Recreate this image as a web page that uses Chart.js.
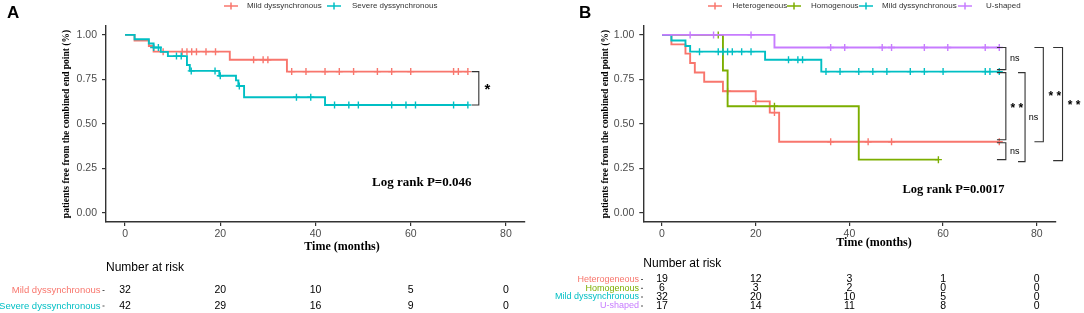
<!DOCTYPE html>
<html>
<head>
<meta charset="utf-8">
<script src="https://cdn.jsdelivr.net/npm/chart.js@4.4.1/dist/chart.umd.min.js"></script>
<style>
  html, body { margin: 0; padding: 0; background: #fff; width: 1084px; height: 313px; overflow: hidden; }
  #wrap { position: relative; width: 1084px; height: 313px; }
  canvas { position: absolute; top: 0; }
  #chartA { left: 0; width: 540px; height: 313px; }
  #chartB { left: 540px; width: 544px; height: 313px; }
</style>
</head>
<body>
<div id="wrap">
  <canvas id="chartA" width="540" height="313"></canvas>
  <canvas id="chartB" width="544" height="313"></canvas>
</div>
<script>
// ---- data ----
const timeTicks = [0, 20, 40, 60, 80];
const survTicks = [0, 0.25, 0.5, 0.75, 1];

// mild dyssynchronous (same group in both panels)
const mildEventT = [2, 5, 6, 22, 34];
const mildSurv = [0.969, 0.938, 0.906, 0.861, 0.794];
const mildCensorT = [8, 12, 13, 14, 15, 17, 19, 27, 29, 30, 35, 38, 42, 45, 48, 53, 56, 60, 69, 70, 72];

// severe dyssynchronous (panel A)
const severeEventT = [2, 5, 6, 7.5, 9, 13, 13.6, 19.8, 23.3, 23.8, 25, 42];
const severeSurv = [0.976, 0.952, 0.929, 0.905, 0.881, 0.831, 0.798, 0.771, 0.745, 0.713, 0.65, 0.607];
const severeCensorT = [6, 7, 10.8, 11.8, 13.9, 18.9, 20, 24, 36, 39, 44, 47, 49, 56, 59, 61, 69, 72];

// panel B
const hetEventT = [2, 5, 6, 7, 9, 13, 20, 23, 25];
const hetSurv = [0.947, 0.895, 0.842, 0.789, 0.737, 0.684, 0.627, 0.564, 0.40];
const hetCensorT = [14, 20, 24, 36, 44, 49, 72];

const homEventT = [13, 14, 42];
const homSurv = [0.8, 0.6, 0.3];
const homCensorT = [12, 24, 59];

const uEventT = [24];
const uSurv = [0.929];
const uCensorT = [6, 11, 19, 36, 39, 47, 49, 56, 61, 69, 72];

// number at risk
const riskTimes = [0, 20, 40, 60, 80];
const riskMild = [32, 20, 10, 5, 0];
const riskSevere = [42, 29, 16, 9, 0];
const riskHet = [19, 12, 3, 1, 0];
const riskHom = [6, 3, 2, 0, 0];
const riskU = [17, 14, 11, 8, 0];

const RED = '#F8766D', GREEN = '#7CAE00', CYAN = '#00BFC4', PURPLE = '#C77CFF';
const SANS = '"Liberation Sans", Arial, sans-serif';
const SERIF = '"Liberation Serif", "Times New Roman", serif';

function survAt(times, surv, t) {
    let s = 1;
    for (let i = 0; i < times.length; i++) if (times[i] <= t) s = surv[i];
    return s;
}

function stepData(times, surv, censor) {
    const end = Math.max(...censor, ...times);
    const pts = [{ x: 0, y: 1 }];
    times.forEach((t, i) => pts.push({ x: t, y: surv[i] }));
    pts.push({ x: end, y: surv[surv.length - 1] });
    return pts;
}

function groupSets(label, color, times, surv, censor) {
    return [
        {
            label: label,
            data: stepData(times, surv, censor),
            stepped: true,
            borderColor: color,
            borderWidth: 1.9,
            pointRadius: 0,
            fill: false,
        },
        {
            label: label + ' censor',
            data: censor.map(t => ({ x: t, y: survAt(times, surv, t) })),
            showLine: false,
            pointStyle: 'cross',
            pointRadius: 3.5,
            pointBorderColor: color,
            pointBorderWidth: 1.4,
        },
    ];
}

function text(ctx, s, x, y, font, color, align) {
    ctx.font = font;
    ctx.fillStyle = color;
    ctx.textAlign = align || 'left';
    ctx.textBaseline = 'middle';
    ctx.fillText(s, x, y);
}

function hline(ctx, x1, y1, x2, y2) {
    ctx.beginPath();
    ctx.moveTo(x1, y1);
    ctx.lineTo(x2, y2);
    ctx.stroke();
}

// draws everything around the plot: legend, titles, brackets, risk table
function makeDecor(cfg) {
    return {
        id: 'decor',
        afterDraw(chart) {
            const ctx = chart.ctx;
            const xs = chart.scales.x, ys = chart.scales.y;
            const area = chart.chartArea;
            ctx.save();

            // panel letter
            text(ctx, cfg.letter, cfg.letterX, 13, 'bold 17px ' + SANS, '#000');

            // legend
            cfg.legend.forEach(it => {
                ctx.strokeStyle = it.color;
                ctx.lineWidth = 1.5;
                hline(ctx, it.symX, 6, it.symX + 14, 6);
                hline(ctx, it.symX + 7, 2.5, it.symX + 7, 9.5);
                text(ctx, it.label, it.textX, 6, '8px ' + SANS, '#333');
            });

            // y title
            ctx.save();
            ctx.translate(cfg.yTitleX, (area.top + area.bottom) / 2);
            ctx.rotate(-Math.PI / 2);
            text(ctx, 'patients free from the combined end point (%)', 0, 0, 'bold 9.5px ' + SERIF, '#000', 'center');
            ctx.restore();

            // x title
            text(ctx, 'Time (months)', cfg.xTitleX, cfg.xTitleY, 'bold 12px ' + SERIF, '#000', 'center');

            // log rank
            text(ctx, cfg.logRank, cfg.logX, cfg.logY, 'bold ' + cfg.logSize + 'px ' + SERIF, '#000');

            // significance brackets
            ctx.strokeStyle = '#333';
            ctx.lineWidth = 1.1;
            cfg.brackets.forEach(b => {
                const y1 = ys.getPixelForValue(b.from) + b.off1;
                const y2 = ys.getPixelForValue(b.to) + b.off2;
                const x0 = xs.getPixelForValue(b.tickT);
                const xv = xs.getPixelForValue(b.vertT);
                ctx.beginPath();
                ctx.moveTo(x0, y1);
                ctx.lineTo(xv, y1);
                ctx.lineTo(xv, y2);
                ctx.lineTo(x0, y2);
                ctx.stroke();
                const lf = b.label === 'ns' ? '9px ' + SANS : 'bold ' + (b.size || 12) + 'px ' + SANS;
                text(ctx, b.label, xs.getPixelForValue(b.labelT), (y1 + y2) / 2 + (b.label === 'ns' ? 0 : 2), lf, '#000');
            });

            // number at risk table
            text(ctx, 'Number at risk', area.left, cfg.riskTitleY, '12px ' + SANS, '#000');
            cfg.rows.forEach(r => {
                text(ctx, r.label, cfg.rowLabelRight, r.y, cfg.rowLabelSize + 'px ' + SANS, r.color, 'right');
                ctx.strokeStyle = '#555';
                ctx.lineWidth = 1;
                hline(ctx, cfg.rowLabelRight + 2, r.y, cfg.rowLabelRight + 4, r.y);
                r.values.forEach((v, i) => {
                    text(ctx, String(v), xs.getPixelForValue(riskTimes[i]), r.y, cfg.rowValueSize + 'px ' + SANS, '#000', 'center');
                });
            });
            ctx.restore();
        },
    };
}

function makeChart(id, datasets, dims, decor) {
    return new Chart(document.getElementById(id), {
        type: 'line',
        data: { datasets: datasets },
        options: {
            responsive: false,
            animation: false,
            devicePixelRatio: 1,
            layout: { padding: { left: 0, top: 26, right: dims.right, bottom: 69 } },
            plugins: { legend: { display: false }, tooltip: { enabled: false } },
            scales: {
                x: {
                    type: 'linear',
                    min: -4,
                    max: 84,
                    afterBuildTicks: (s) => { s.ticks = timeTicks.map(v => ({ value: v })); },
                    afterFit: (s) => { s.height = 22; s.paddingLeft = 0; s.paddingRight = 0; },
                    grid: { drawOnChartArea: false, tickLength: 4, color: '#333', lineWidth: 1.2 },
                    border: { color: '#333', width: 1.4 },
                    ticks: { padding: 2, color: '#4d4d4d', font: { family: SANS, size: 10.5 } },
                },
                y: {
                    type: 'linear',
                    min: -0.05,
                    max: 1.05,
                    afterBuildTicks: (s) => { s.ticks = survTicks.map(v => ({ value: v })); },
                    afterFit: (s) => { s.width = dims.left; s.paddingTop = 0; s.paddingBottom = 0; },
                    grid: { drawOnChartArea: false, tickLength: 4, color: '#333', lineWidth: 1.2 },
                    border: { color: '#333', width: 1.4 },
                    ticks: {
                        padding: 5,
                        color: '#4d4d4d',
                        font: { family: SANS, size: 10.5 },
                        callback: (v) => Number(v).toFixed(2),
                    },
                },
            },
        },
        plugins: [makeDecor(decor)],
    });
}

const lastMild = mildSurv[mildSurv.length - 1];
const lastSevere = severeSurv[severeSurv.length - 1];
const lastHet = hetSurv[hetSurv.length - 1];
const lastHom = homSurv[homSurv.length - 1];
const lastU = uSurv[uSurv.length - 1];

// ---- panel A ----
makeChart('chartA',
    [
        ...groupSets('Severe dyssynchronous', CYAN, severeEventT, severeSurv, severeCensorT),
        ...groupSets('Mild dyssynchronous', RED, mildEventT, mildSurv, mildCensorT),
    ],
    { left: 106, right: 15 },
    {
        letter: 'A', letterX: 7,
        legend: [
            { color: RED, label: 'Mild dyssynchronous', symX: 224, textX: 247 },
            { color: CYAN, label: 'Severe dyssynchronous', symX: 327, textX: 352 },
        ],
        yTitleX: 67,
        xTitleX: 342, xTitleY: 247,
        logRank: 'Log rank P=0.046', logX: 372, logY: 183, logSize: 13,
        brackets: [
            { from: lastMild, to: lastSevere, off1: 0, off2: 0, tickT: 72.8, vertT: 74.3, label: '*', labelT: 75.5, size: 15 },
        ],
        riskTitleY: 268,
        rowLabelRight: 100.5, rowLabelSize: 9.5, rowValueSize: 10.5,
        rows: [
            { label: 'Mild dyssynchronous', color: RED, y: 290.5, values: riskMild },
            { label: 'Severe dyssynchronous', color: CYAN, y: 306, values: riskSevere },
        ],
    });

// ---- panel B ----
makeChart('chartB',
    [
        ...groupSets('U-shaped', PURPLE, uEventT, uSurv, uCensorT),
        ...groupSets('Mild dyssynchronous', CYAN, mildEventT, mildSurv, mildCensorT),
        ...groupSets('Homogenous', GREEN, homEventT, homSurv, homCensorT),
        ...groupSets('Heterogeneous', RED, hetEventT, hetSurv, hetCensorT),
    ],
    { left: 103.3, right: 28.5 },
    {
        letter: 'B', letterX: 39,
        legend: [
            { color: RED, label: 'Heterogeneous', symX: 168, textX: 192.5 },
            { color: GREEN, label: 'Homogenous', symX: 247, textX: 271 },
            { color: CYAN, label: 'Mild dyssynchronous', symX: 319, textX: 342 },
            { color: PURPLE, label: 'U-shaped', symX: 418, textX: 446 },
        ],
        yTitleX: 66,
        xTitleX: 334, xTitleY: 242.5,
        logRank: 'Log rank P=0.0017', logX: 362.5, logY: 190, logSize: 12.5,
        brackets: [
            { from: lastU, to: lastMild, off1: 0, off2: -2, tickT: 71.5, vertT: 73.4, label: 'ns', labelT: 74.3 },
            { from: lastMild, to: lastHet, off1: 1, off2: -2, tickT: 71.5, vertT: 73.4, label: '* *', labelT: 74.4 },
            { from: lastHet, to: lastHom, off1: 1, off2: 0, tickT: 71.5, vertT: 73.4, label: 'ns', labelT: 74.3 },
            { from: lastMild, to: lastHom, off1: 1, off2: 2, tickT: 76.0, vertT: 77.5, label: 'ns', labelT: 78.3 },
            { from: lastU, to: lastHet, off1: 0, off2: 0, tickT: 79.5, vertT: 81.4, label: '* *', labelT: 82.5 },
            { from: lastU, to: lastHom, off1: 0, off2: 1, tickT: 83.5, vertT: 85.5, label: '* *', labelT: 86.6 },
        ],
        riskTitleY: 263.5,
        rowLabelRight: 99, rowLabelSize: 9, rowValueSize: 10.5,
        rows: [
            { label: 'Heterogeneous', color: RED, y: 279.5, values: riskHet },
            { label: 'Homogenous', color: GREEN, y: 288.3, values: riskHom },
            { label: 'Mild dyssynchronous', color: CYAN, y: 297, values: riskMild },
            { label: 'U-shaped', color: PURPLE, y: 306, values: riskU },
        ],
    });
</script>
</body>
</html>
